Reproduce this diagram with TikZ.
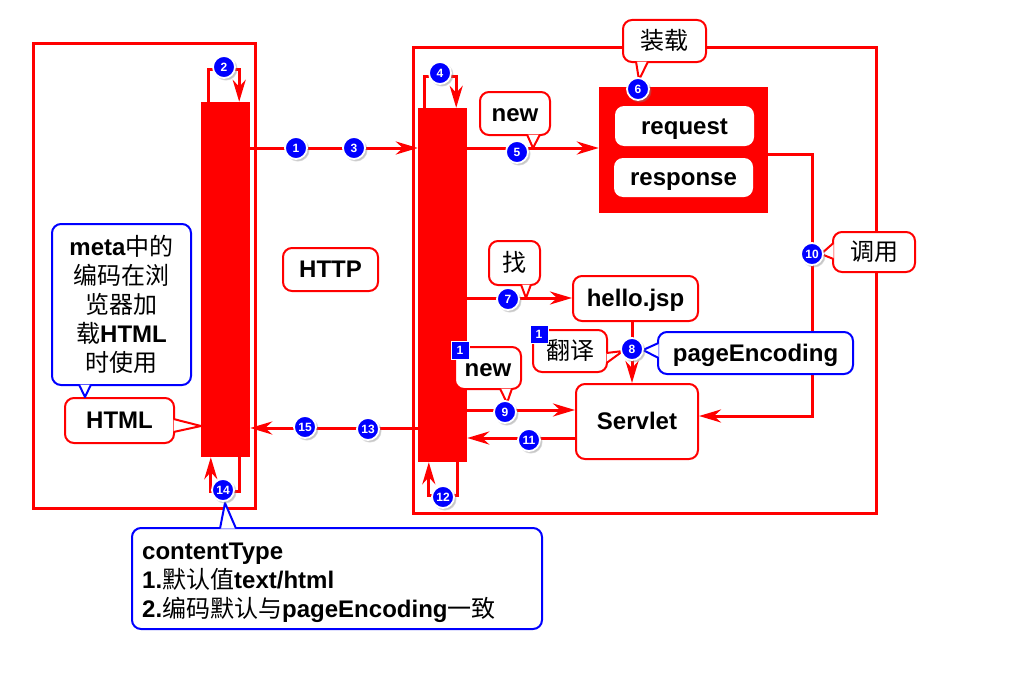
\documentclass[tikz,border=0pt]{standalone}
\usepackage{fontspec}
\setmainfont{Liberation Sans}
\newfontfamily\cjk{Noto Sans CJK SC}
\usetikzlibrary{arrows.meta,shadows,calc}
\newcommand\zh[1]{{\cjk\mdseries #1}}
% tail of a speech bubble: colour, base start, tip, base end
\newcommand\calltail[4]{%
  \fill[white] (#2) -- (#3) -- (#4) -- cycle;
  \draw[#1,line width=2pt,line join=round] (#2) -- (#3) -- (#4);}
\begin{document}
\begin{tikzpicture}[x=1pt,y=-1pt,
  frame/.style={draw=red,line width=3pt,inner sep=0pt},
  lifebar/.style={fill=red,draw=none,inner sep=0pt},
  flow/.style={draw=red,line width=3pt,-{Stealth[length=22pt,width=13pt,inset=7pt]}},
  txt/.style={font=\bfseries\fontsize{24}{29}\selectfont,inner sep=0pt},
  oneline/.style={txt,text height=18pt,text depth=2pt},
  callr/.style={oneline,draw=red,fill=white,line width=2pt,rounded corners=9pt},
  callb/.style={callr,draw=blue},
  chip/.style={oneline,fill=white,draw=none,rounded corners=9pt},
  badge/.style={circle,fill=blue,draw=white,line width=1.8pt,inner sep=0pt,
    minimum size=22pt,text=white,font=\bfseries\fontsize{12}{12}\selectfont,
    circular drop shadow={shadow xshift=1.5pt,shadow yshift=-1.5pt,opacity=0.45}},
  tag/.style={rectangle,fill=blue,draw=white,line width=1pt,inner sep=0pt,
    minimum size=18pt,text=white,font=\bfseries\fontsize{12}{12}\selectfont}
]
\useasboundingbox (0,0) rectangle (1024,677);

% browser and server frames
\node[frame,minimum width=222pt,minimum height=464pt] (client) at (144,276) {};
\node[frame,minimum width=463pt,minimum height=465pt] (server) at (644.5,280.5) {};

% lifelines
\node[lifebar,minimum width=49pt,minimum height=355pt] (lbar) at (225.5,279.5) {};
\node[lifebar,minimum width=49pt,minimum height=354pt] (rbar) at (442.5,285) {};

% request / response container
\node[lifebar,minimum width=169pt,minimum height=126pt] (rr) at (683.5,150) {};
\node[chip,minimum width=139pt,minimum height=40pt] (req) at (684.5,126) {request};
\node[chip,minimum width=139pt,minimum height=39pt] (resp) at (683.5,177.5) {response};

% boxes
\node[callr,minimum width=125pt,minimum height=45pt] (jsp) at (635.5,298.5) {hello.jsp};
\node[callr,minimum width=122pt,minimum height=75pt] (servlet) at (637,421.5) {Servlet};
\node[callr,minimum width=95pt,minimum height=43pt] (http) at (330.5,269.5) {HTTP};

% messages
\draw[flow] ($(lbar.north west)+(8,0)$) -- ++(0,-32) -| ($(lbar.north east)+(-11,0)$);
\draw[flow] (lbar.east |- 0,148) -- (rbar.west |- 0,148);
\draw[flow] ($(rbar.north west)+(7,0)$) -- ++(0,-31) -| ($(rbar.north east)+(-11,0)$);
\draw[flow] (rbar.east |- 0,148) -- (rr.west |- 0,148);
\draw[flow] (rbar.east |- 0,298) -- (jsp.west |- 0,298);
\draw[flow] (jsp.south -| 632,0) -- (servlet.north -| 632,0);
\draw[flow] (rbar.east |- 0,410) -- (servlet.west |- 0,410);
\draw[flow] (rr.east |- 0,154) -| (812,416) -- (servlet.east |- 0,416);
\draw[flow] (servlet.west |- 0,438) -- (rbar.east |- 0,438);
\draw[flow] ($(rbar.south east)+(-10,0)$) -- ++(0,33) -| ($(rbar.south west)+(11,0)$);
\draw[flow] (rbar.west |- 0,428) -- (lbar.east |- 0,428);
\draw[flow] ($(lbar.south east)+(-11,0)$) -- ++(0,34) -| ($(lbar.south west)+(10,0)$);

% speech bubbles
\node[callr,minimum width=70pt,minimum height=43pt] (new5) at (515,113.5) {new};
\calltail{red}{$(new5.south)+(12,-1.5)$}{$(new5.south)+(18,12)$}{$(new5.south)+(25,-1.5)$}

\node[callr,minimum width=83pt,minimum height=42pt] (load) at (664.5,41) {\zh{装载}};
\calltail{red}{$(load.south)+(-28.5,-1.5)$}{$(load.south)+(-25.5,17)$}{$(load.south)+(-16.5,-1.5)$}

\node[callr,minimum width=51pt,minimum height=44pt] (find) at (514.5,263) {\zh{找}};
\calltail{red}{$(find.south)+(6.5,-1.5)$}{$(find.south)+(11.5,12)$}{$(find.south)+(16.5,-1.5)$}

\node[callr,minimum width=74pt,minimum height=42pt] (trans) at (570,351) {\zh{翻译}};
\calltail{red}{$(trans.east)+(-1.5,2)$}{$(trans.east)+(15,0)$}{$(trans.east)+(-1.5,12)$}

\node[callb,minimum width=195pt,minimum height=42pt] (penc) at (755.5,353) {pageEncoding};
\calltail{blue}{$(penc.west)+(1.5,-10)$}{$(penc.west)+(-14,-3)$}{$(penc.west)+(1.5,5)$}

\node[callr,minimum width=66pt,minimum height=42pt] (new9) at (488,368) {new};
\calltail{red}{$(new9.south)+(12,-1.5)$}{$(new9.south)+(19,13)$}{$(new9.south)+(24,-1.5)$}

\node[callr,minimum width=82pt,minimum height=40pt] (call) at (874,252) {\zh{调用}};
\calltail{red}{$(call.west)+(1.5,-9)$}{$(call.west)+(-11,2)$}{$(call.west)+(1.5,7)$}

\node[callr,minimum width=109pt,minimum height=45pt] (html) at (119.5,420.5) {HTML};
\calltail{red}{$(html.east)+(-1.5,-1.5)$}{$(html.east)+(26,5.5)$}{$(html.east)+(-1.5,11.5)$}

\node[txt,draw=blue,fill=white,line width=2pt,rounded corners=9pt,align=center,
  minimum width=139pt,minimum height=161pt] (meta) at (121.5,304.5)
  {meta\zh{中的}\\\zh{编码在浏}\\\zh{览器加}\\\zh{载}HTML\\\zh{时使用}};
\calltail{blue}{$(meta.south)+(-42.5,-1.5)$}{$(meta.south)+(-36.5,11)$}{$(meta.south)+(-30.5,-1.5)$}

\node[draw=blue,fill=white,line width=2pt,rounded corners=9pt,
  minimum width=410pt,minimum height=101pt] (ctype) at (337,578.5) {};
\calltail{blue}{$(ctype.north)+(-117,1.5)$}{$(ctype.north)+(-112,-24)$}{$(ctype.north)+(-101,1.5)$}
\node[txt,align=left,anchor=west] (ctext) at ($(ctype.west)+(11,4)$)
  {contentType\\1.\zh{默认值}text/html\\2.\zh{编码默认与}pageEncoding\zh{一致}};

% markers
\node[tag] (t1) at (539,334) {1};
\node[tag] (t2) at (460,350) {1};

% step numbers
\node[badge] (b1) at (296,148) {1};
\node[badge] (b2) at (224,67) {2};
\node[badge] (b3) at (354,148) {3};
\node[badge] (b4) at (440,73) {4};
\node[badge] (b5) at (517,152) {5};
\node[badge] (b6) at (638,89) {6};
\node[badge] (b7) at (508,299) {7};
\node[badge] (b8) at (632,349) {8};
\node[badge] (b9) at (505,412) {9};
\node[badge] (b10) at (812,254) {10};
\node[badge] (b11) at (529,440) {11};
\node[badge] (b12) at (443,497) {12};
\node[badge] (b13) at (368,429) {13};
\node[badge] (b14) at (223,490) {14};
\node[badge] (b15) at (305,427) {15};
\end{tikzpicture}
\end{document}
